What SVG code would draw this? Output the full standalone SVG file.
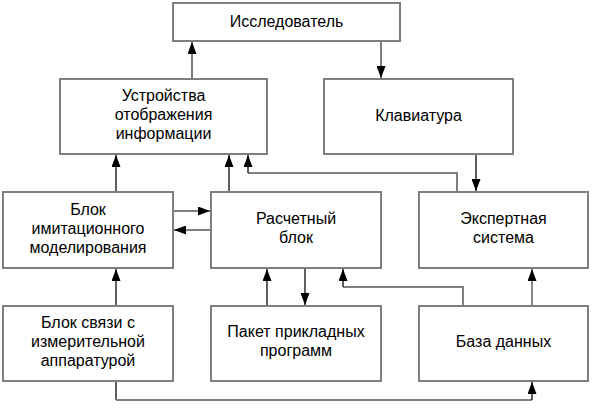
<svg xmlns="http://www.w3.org/2000/svg" width="592" height="415" viewBox="0 0 592 415">
<style>
.box{fill:#fff;stroke:#7f7f7f;stroke-width:2}
.t{font-family:"Liberation Sans",Arial,sans-serif;font-size:16px;fill:#000;text-anchor:middle}
.c{fill:none;stroke:#1a1a1a;stroke-width:1.4;marker-end:url(#ah)}
.g{fill:none;stroke:#7f7f7f;stroke-width:2}
</style>
<defs>
<marker id="ah" markerUnits="userSpaceOnUse" markerWidth="12" markerHeight="9" refX="12" refY="4.5" orient="auto">
<path d="M0,0 L12,4.5 L0,9 z" fill="#000"/>
</marker>
</defs>
<rect width="592" height="415" fill="#fff"/>
<g id="connectors">
<path class="c" style="stroke:#7f7f7f;stroke-width:2" d="M192,79 V42"/>
<path class="c" style="stroke:#7f7f7f;stroke-width:2" d="M381,42 V78"/>
<path class="c" d="M116,191 V155"/>
<path class="c" d="M229,191 V155"/>
<path class="g" d="M457,191 V173 H248"/>
<path class="c" d="M248,173 V155"/>
<path class="c" d="M476,155 V191"/>
<path class="c" style="stroke:#7f7f7f;stroke-width:2" d="M174,211 H210"/>
<path class="c" style="stroke:#7f7f7f;stroke-width:2" d="M210,230 H174"/>
<path class="c" d="M116,305 V269"/>
<path class="c" d="M267,305 V269"/>
<path class="c" d="M305,269 V305"/>
<path class="g" d="M463,305 V287 H343"/>
<path class="c" d="M343,287 V269"/>
<path class="c" style="stroke:#555" d="M532,305 V269"/>
<path class="g" style="stroke:#1a1a1a;stroke-width:1.4" d="M116,382 V400"/>
<path class="g" d="M116,400 H532"/>
<path class="c" d="M532,400 V382"/>
</g>
<g id="n-researcher">
<rect class="box" x="173" y="3" width="227" height="38"/>
<text class="t" x="286.5" y="27">Исследователь</text>
</g>
<g id="n-display">
<rect class="box" x="60" y="79" width="207" height="75"/>
<text class="t" x="163.5" y="101">Устройства</text>
<text class="t" x="163.5" y="120">отображения</text>
<text class="t" x="163.5" y="139">информации</text>
</g>
<g id="n-keyboard">
<rect class="box" x="324" y="79" width="189" height="75"/>
<text class="t" x="418.5" y="121">Клавиатура</text>
</g>
<g id="n-sim">
<rect class="box" x="3" y="192" width="170" height="76"/>
<text class="t" x="88" y="215">Блок</text>
<text class="t" x="88" y="234">имитационного</text>
<text class="t" x="88" y="253">моделирования</text>
</g>
<g id="n-calc">
<rect class="box" x="211" y="192" width="170" height="76"/>
<text class="t" x="296" y="224">Расчетный</text>
<text class="t" x="296" y="243">блок</text>
</g>
<g id="n-expert">
<rect class="box" x="419" y="192" width="169" height="76"/>
<text class="t" x="503.5" y="224">Экспертная</text>
<text class="t" x="503.5" y="243">система</text>
</g>
<g id="n-link">
<rect class="box" x="3" y="306" width="170" height="75"/>
<text class="t" x="88" y="328">Блок связи с</text>
<text class="t" x="88" y="347">измерительной</text>
<text class="t" x="88" y="366">аппаратурой</text>
</g>
<g id="n-package">
<rect class="box" x="211" y="306" width="170" height="75"/>
<text class="t" x="296" y="337">Пакет прикладных</text>
<text class="t" x="296" y="356">программ</text>
</g>
<g id="n-db">
<rect class="box" x="419" y="306" width="169" height="75"/>
<text class="t" x="503.5" y="347">База данных</text>
</g>
</svg>
